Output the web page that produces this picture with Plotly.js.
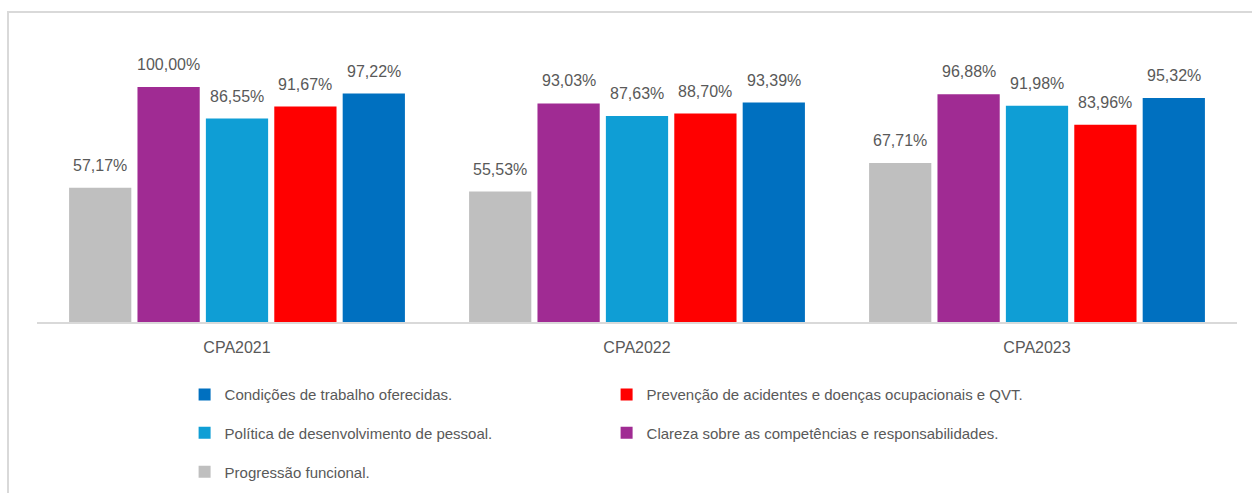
<!DOCTYPE html>
<html>
<head>
<meta charset="utf-8">
<script src="https://cdn.plot.ly/plotly-3.0.1.min.js"></script>
<style>
html,body{margin:0;padding:0;overflow:hidden;background:#fff;}
#chart{position:absolute;left:0;top:0;width:1252px;height:493px;}
#frame{position:absolute;left:7px;top:11px;width:1270px;height:520px;border:2px solid #D9D9D9;pointer-events:none;box-sizing:border-box;}
</style>
</head>
<body>
<div id="chart"></div>
<div id="frame"></div>
<script>
const categories = ["CPA2021", "CPA2022", "CPA2023"];
const seriesNames = [
  "Progressão funcional.",
  "Clareza sobre as competências e responsabilidades.",
  "Política de desenvolvimento de pessoal.",
  "Prevenção de acidentes e doenças ocupacionais e QVT.",
  "Condições de trabalho oferecidas."
];
const progressao = [57.17, 55.53, 67.71];
const clareza = [100.00, 93.03, 96.88];
const politica = [86.55, 87.63, 91.98];
const prevencao = [91.67, 88.70, 83.96];
const condicoes = [97.22, 93.39, 95.32];

const seriesValues = [progressao, clareza, politica, prevencao, condicoes];
const colors = ["#BFBFBF", "#A02B93", "#0F9ED5", "#FF0000", "#0070C0"];
const legendOf = ["legend3", "legend2", "legend2", "legend", "legend"];
const ranks = [5, 4, 3, 2, 1];

const W = 1252, H = 493;
const mL = 37, mR = 15, mT = 40, mB = 171;
const bargap = 0.145;
const plotW = W - mL - mR;
const slot = (plotW / categories.length) * (1 - bargap) / seriesValues.length;

const traces = seriesValues.map((vals, i) => ({
  type: "bar",
  name: seriesNames[i],
  x: categories,
  y: vals,
  marker: {color: colors[i]},
  legend: legendOf[i],
  legendrank: ranks[i],
  hoverinfo: "skip"
}));

const fmt = v => v.toFixed(2).replace(".", ",") + "%";
const annotations = [];
seriesValues.forEach((vals, i) => {
  vals.forEach((v, c) => {
    annotations.push({
      x: categories[c], y: v, xref: "x", yref: "y",
      text: fmt(v), showarrow: false,
      xanchor: "center", yanchor: "bottom",
      xshift: (i - (seriesValues.length - 1) / 2) * slot,
      yshift: 12,
      font: {family: "Liberation Sans, Arial, sans-serif", size: 16, color: "#595959"}
    });
  });
});

const legendBase = {
  orientation: "h",
  xanchor: "left", yanchor: "middle",
  x: 0.123,
  entrywidth: 377, entrywidthmode: "pixels",
  font: {family: "Liberation Sans, Arial, sans-serif", size: 15, color: "#595959"},
  bgcolor: "rgba(0,0,0,0)",
  traceorder: "normal"
};

const layout = {
  width: W, height: H,
  margin: {l: mL, r: mR, t: mT, b: mB, pad: 0, autoexpand: false},
  paper_bgcolor: "#ffffff",
  plot_bgcolor: "#ffffff",
  barmode: "group",
  bargap: bargap,
  bargroupgap: 0.09,
  showlegend: true,
  xaxis: {
    type: "category",
    showline: true, linecolor: "#D9D9D9", linewidth: 2,
    ticks: "", showgrid: false, zeroline: false,
    tickfont: {family: "Liberation Sans, Arial, sans-serif", size: 16, color: "#595959"},
    ticklabelstandoff: 10,
    fixedrange: true
  },
  yaxis: {
    range: [0, 120],
    visible: false, showgrid: false, zeroline: false, fixedrange: true
  },
  legend: Object.assign({}, legendBase, {y: -0.258}),
  legend2: Object.assign({}, legendBase, {y: -0.394}),
  legend3: Object.assign({}, legendBase, {y: -0.532}),
  annotations: annotations
};

Plotly.newPlot("chart", traces, layout, {displayModeBar: false, staticPlot: true});
</script>
</body>
</html>
